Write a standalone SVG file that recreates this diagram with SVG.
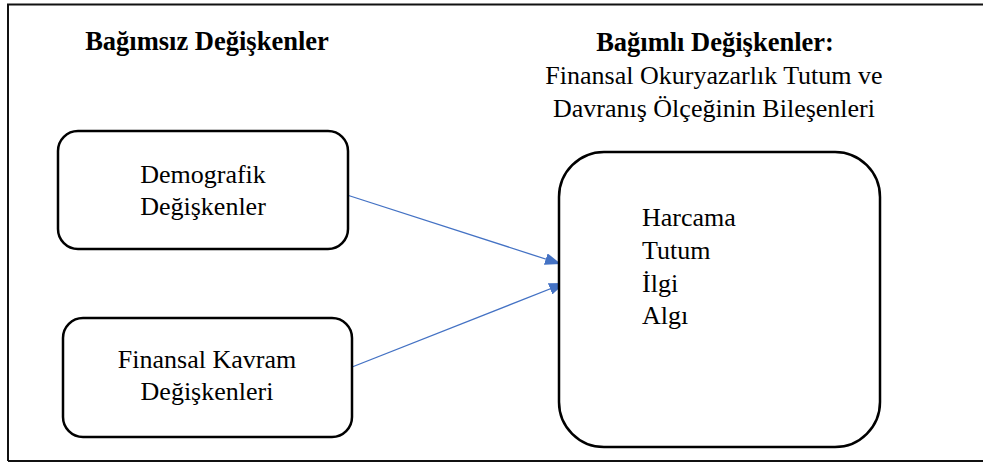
<svg xmlns="http://www.w3.org/2000/svg" width="983" height="463" viewBox="0 0 983 463">
<style>
.t{font-family:"Liberation Serif","Times New Roman",serif;font-size:26px;fill:#000}
.b{font-weight:bold;font-size:26.5px}
.box{fill:#fff;stroke:#000;stroke-width:2.5}
.c{stroke:#4472C4;stroke-width:1.3;fill:none}
</style>
<defs>
<marker id="ah" viewBox="0 0 16 12" refX="16" refY="6" markerWidth="16" markerHeight="12" orient="auto" markerUnits="userSpaceOnUse">
<path d="M0,0 L16,6 L0,12 z" fill="#4472C4"/>
</marker>
</defs>
<rect width="983" height="463" fill="#fff"/>
<g id="frame">
<path d="M8,461 L8,4.5 L983,4.5 M8,461 L983,461" fill="none" stroke="#111" stroke-width="2"/>
</g>
<g id="titles">
<text class="t b" x="207" y="50" text-anchor="middle">Bağımsız Değişkenler</text>
<text class="t b" x="715" y="51" text-anchor="middle">Bağımlı Değişkenler:</text>
<text class="t" x="714" y="84" text-anchor="middle">Finansal Okuryazarlık Tutum ve</text>
<text class="t" x="714" y="117" text-anchor="middle">Davranış Ölçeğinin Bileşenleri</text>
</g>
<g id="connectors">
<line class="c" x1="347" y1="195" x2="561" y2="264" marker-end="url(#ah)"/>
<line class="c" x1="347" y1="369" x2="565" y2="283" marker-end="url(#ah)"/>
</g>
<g id="demografik">
<rect class="box" x="58" y="131" width="290" height="118" rx="20"/>
<text class="t" x="203" y="183" text-anchor="middle">Demografik</text>
<text class="t" x="203" y="215" text-anchor="middle">Değişkenler</text>
</g>
<g id="finansal-kavram">
<rect class="box" x="63" y="318" width="289" height="119" rx="20"/>
<text class="t" x="207" y="368" text-anchor="middle">Finansal Kavram</text>
<text class="t" x="207" y="400" text-anchor="middle">Değişkenleri</text>
</g>
<g id="bilesenler">
<rect class="box" x="559" y="152" width="321" height="295" rx="45"/>
<text class="t" x="642" y="226">Harcama</text>
<text class="t" x="642" y="259">Tutum</text>
<text class="t" x="642" y="292">İlgi</text>
<text class="t" x="642" y="324">Algı</text>
</g>
</svg>
